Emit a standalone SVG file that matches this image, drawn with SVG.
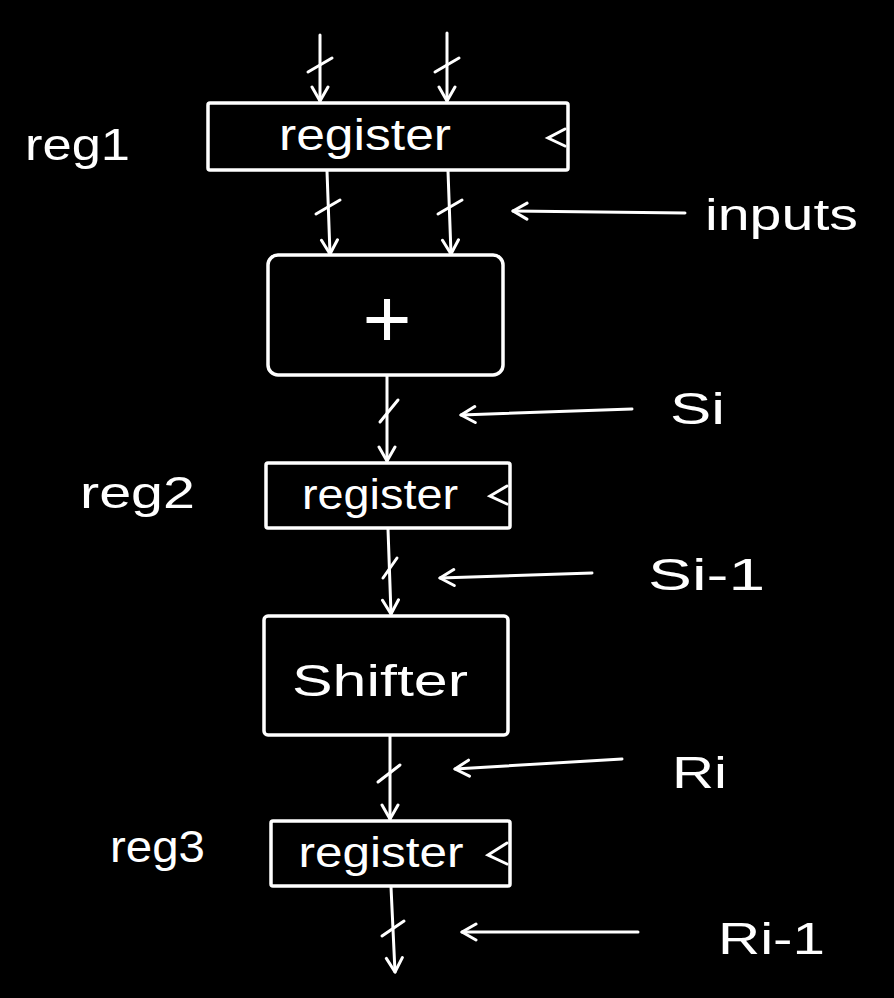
<svg xmlns="http://www.w3.org/2000/svg" width="894" height="998" viewBox="0 0 894 998">
<defs>
<marker id="ah" viewBox="0 0 20 20" refX="18" refY="10" markerWidth="20" markerHeight="20" markerUnits="userSpaceOnUse" orient="auto">
<path d="M4,2 L18,10 L4,18" fill="none" stroke="#fff" stroke-width="3" stroke-linecap="round" stroke-linejoin="round"/>
</marker>
</defs>
<style>
.box{fill:none;stroke:#fff;stroke-width:3.5;stroke-linejoin:round}
.w{fill:none;stroke:#fff;stroke-width:3;stroke-linecap:round}
.t{fill:#fff;font-family:"Liberation Sans","DejaVu Sans",sans-serif}
.lbl{fill:#fff;font-family:"Liberation Sans","DejaVu Sans",sans-serif;font-size:44px}
</style>
<rect width="894" height="998" fill="#000"/>
<g id="connectors">
<line class="w" x1="320" y1="35" x2="320" y2="101" marker-end="url(#ah)"/>
<line class="w" x1="308" y1="72" x2="332" y2="58"/>
<line class="w" x1="447" y1="33" x2="447" y2="101" marker-end="url(#ah)"/>
<line class="w" x1="435" y1="72" x2="459" y2="58"/>
<line class="w" x1="327" y1="171" x2="330" y2="254" marker-end="url(#ah)"/>
<line class="w" x1="316" y1="214" x2="340" y2="200"/>
<line class="w" x1="448" y1="171" x2="451" y2="254" marker-end="url(#ah)"/>
<line class="w" x1="438" y1="214" x2="462" y2="200"/>
<line class="w" x1="387" y1="376" x2="387" y2="461" marker-end="url(#ah)"/>
<line class="w" x1="380" y1="422" x2="398" y2="400"/>
<line class="w" x1="388" y1="529" x2="391" y2="614" marker-end="url(#ah)"/>
<line class="w" x1="383" y1="578" x2="397" y2="558"/>
<line class="w" x1="390" y1="736" x2="390" y2="819" marker-end="url(#ah)"/>
<line class="w" x1="378" y1="782" x2="400" y2="765"/>
<line class="w" x1="391" y1="887" x2="395" y2="972" marker-end="url(#ah)"/>
<line class="w" x1="382" y1="936" x2="404" y2="921"/>
<line class="w" x1="685" y1="213" x2="513" y2="211" marker-end="url(#ah)"/>
<line class="w" x1="632" y1="409" x2="461" y2="415" marker-end="url(#ah)"/>
<line class="w" x1="592" y1="573" x2="440" y2="578" marker-end="url(#ah)"/>
<line class="w" x1="622" y1="759" x2="455" y2="769" marker-end="url(#ah)"/>
<line class="w" x1="638" y1="932" x2="462" y2="932" marker-end="url(#ah)"/>
</g>
<g id="reg1">
<rect class="box" x="208" y="103" width="360" height="67" rx="2"/>
<path class="w" d="M565,129 L548,138 L565,146"/>
<text class="t" x="365" y="150" font-size="44" text-anchor="middle" textLength="172" lengthAdjust="spacingAndGlyphs">register</text>
</g>
<g id="adder">
<rect class="box" x="268" y="255" width="235" height="120" rx="10"/>
<text class="t" x="387" y="347" font-size="84" text-anchor="middle">+</text>
</g>
<g id="reg2">
<rect class="box" x="266" y="463" width="244" height="65" rx="2"/>
<path class="w" d="M507,486 L490,496 L507,504"/>
<text class="t" x="380" y="509" font-size="42" text-anchor="middle" textLength="156" lengthAdjust="spacingAndGlyphs">register</text>
</g>
<g id="shifter">
<rect class="box" x="264" y="616" width="244" height="119" rx="4"/>
<text class="t" x="380" y="696" font-size="44" text-anchor="middle" textLength="176" lengthAdjust="spacingAndGlyphs">Shifter</text>
</g>
<g id="reg3">
<rect class="box" x="271" y="821" width="239" height="65" rx="2"/>
<path class="w" d="M507,843 L488,855 L507,864"/>
<text class="t" x="381" y="867" font-size="42" text-anchor="middle" textLength="165" lengthAdjust="spacingAndGlyphs">register</text>
</g>
<g id="labels">
<text class="lbl" x="25" y="160" textLength="105" lengthAdjust="spacingAndGlyphs">reg1</text>
<text class="lbl" x="80" y="508" textLength="115" lengthAdjust="spacingAndGlyphs">reg2</text>
<text class="lbl" x="110" y="862" font-size="38" textLength="95" lengthAdjust="spacingAndGlyphs">reg3</text>
<text class="lbl" x="705" y="230" textLength="153" lengthAdjust="spacingAndGlyphs">inputs</text>
<text class="lbl" x="670" y="424" textLength="55" lengthAdjust="spacingAndGlyphs">Si</text>
<text class="lbl" x="648" y="590" textLength="117" lengthAdjust="spacingAndGlyphs">Si-1</text>
<text class="lbl" x="672" y="788" textLength="55" lengthAdjust="spacingAndGlyphs">Ri</text>
<text class="lbl" x="718" y="954" textLength="107" lengthAdjust="spacingAndGlyphs">Ri-1</text>
</g>
</svg>
